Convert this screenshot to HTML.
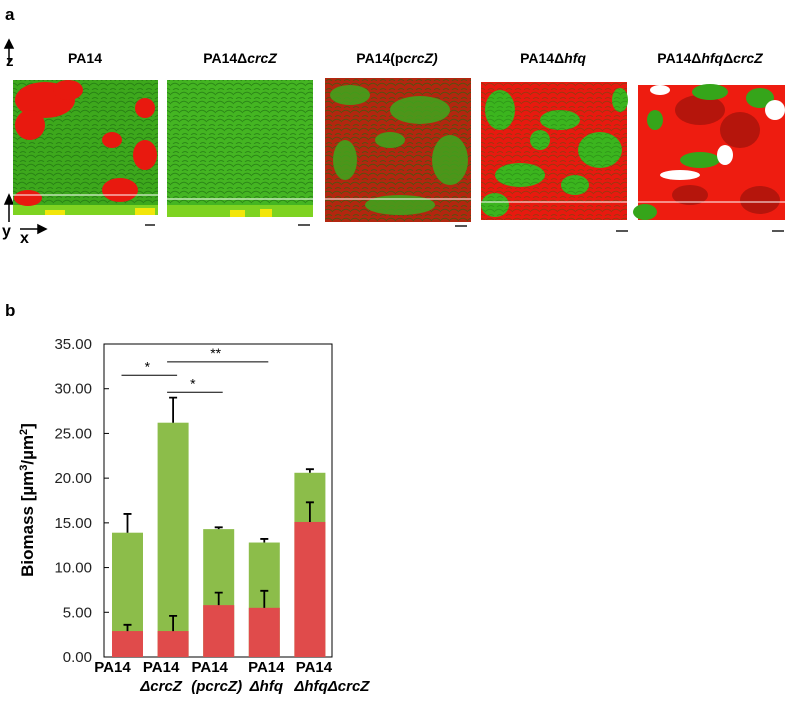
<!DOCTYPE html>
<html><head><meta charset="utf-8"><style>
body{margin:0;background:#fff;width:787px;height:698px;overflow:hidden;font-family:"Liberation Sans",Arial,sans-serif}
svg text{font-family:"Liberation Sans",Arial,sans-serif}
</style></head><body>
<svg width="787" height="698" viewBox="0 0 787 698">
<defs>
<pattern id="tex" width="9" height="9" patternUnits="userSpaceOnUse"><rect width="9" height="9" fill="none"/><path d="M0 4 Q4 0 9 5 M2 9 Q5 6 8 9" stroke="#1d6a10" stroke-width="1" fill="none" opacity="0.6"/></pattern>
</defs>
<text x="5" y="20" font-size="17" font-weight="bold">a</text>
<text x="5" y="316" font-size="17" font-weight="bold">b</text>

<g stroke="#000" stroke-width="1.5" fill="#000">
<line x1="9" y1="62" x2="9" y2="44"/><path d="M5 48 L9 40 L13 48Z"/>
<line x1="9" y1="222" x2="9" y2="198"/><path d="M5 204 L9 195 L13 204Z"/>
<line x1="20" y1="229" x2="44" y2="229"/><path d="M38 225 L46 229 L38 233Z"/>
</g>
<text x="6" y="66" font-size="15" font-weight="bold">z</text>
<text x="2" y="236" font-size="16" font-weight="bold">y</text>
<text x="20" y="243" font-size="16" font-weight="bold">x</text>

<g font-size="14" font-weight="bold" text-anchor="middle">
<text x="85" y="63">PA14</text>
<text x="240" y="63">PA14Δ<tspan font-style="italic">crcZ</tspan></text>
<text x="397" y="63">PA14(p<tspan font-style="italic">crcZ)</tspan></text>
<text x="553" y="63">PA14Δ<tspan font-style="italic">hfq</tspan></text>
<text x="710" y="63">PA14Δ<tspan font-style="italic">hfq</tspan>Δ<tspan font-style="italic">crcZ</tspan></text>
</g>

<g>
<rect x="13" y="80" width="145" height="135" fill="#3da81c"/><rect x="13" y="80" width="145" height="135" fill="url(#tex)"/>
<rect x="13" y="205" width="145" height="10" fill="#7ed321"/>
<g fill="#e8190f"><ellipse cx="45" cy="100" rx="30" ry="18"/><ellipse cx="30" cy="125" rx="15" ry="15"/><ellipse cx="68" cy="90" rx="15" ry="10"/><ellipse cx="145" cy="108" rx="10" ry="10"/><ellipse cx="112" cy="140" rx="10" ry="8"/><ellipse cx="145" cy="155" rx="12" ry="15"/><ellipse cx="120" cy="190" rx="18" ry="12"/><ellipse cx="28" cy="198" rx="14" ry="8"/></g>
<g fill="#f2e60a"><rect x="45" y="210" width="20" height="5"/><rect x="135" y="208" width="20" height="7"/></g>
<line x1="13" y1="195" x2="158" y2="195" stroke="#fff"/>
<rect x="145" y="224" width="10" height="2" fill="#555"/>
</g>
<g>
<rect x="167" y="80" width="146" height="137" fill="#44b522"/><rect x="167" y="80" width="146" height="137" fill="url(#tex)"/>
<rect x="167" y="205" width="146" height="12" fill="#7ed321"/>
<g fill="#f2e60a"><rect x="230" y="210" width="15" height="7"/><rect x="260" y="209" width="12" height="8"/></g>
<line x1="167" y1="199" x2="313" y2="199" stroke="#fff"/>
<rect x="298" y="224" width="12" height="2" fill="#555"/>
</g>
<g>
<rect x="325" y="78" width="146" height="144" fill="#b3260f"/><rect x="325" y="78" width="146" height="144" fill="url(#tex)"/>
<g fill="#3da81c" opacity="0.85"><ellipse cx="350" cy="95" rx="20" ry="10"/><ellipse cx="420" cy="110" rx="30" ry="14"/><ellipse cx="450" cy="160" rx="18" ry="25"/><ellipse cx="345" cy="160" rx="12" ry="20"/><ellipse cx="400" cy="205" rx="35" ry="10"/><ellipse cx="390" cy="140" rx="15" ry="8"/></g>
<line x1="325" y1="199" x2="471" y2="199" stroke="#fff"/>
<rect x="455" y="225" width="12" height="2" fill="#555"/>
</g>
<g>
<rect x="481" y="82" width="146" height="138" fill="#e8190f"/>
<g fill="#3bb51e"><ellipse cx="500" cy="110" rx="15" ry="20"/><ellipse cx="560" cy="120" rx="20" ry="10"/><ellipse cx="600" cy="150" rx="22" ry="18"/><ellipse cx="520" cy="175" rx="25" ry="12"/><ellipse cx="575" cy="185" rx="14" ry="10"/><ellipse cx="495" cy="205" rx="14" ry="12"/><ellipse cx="620" cy="100" rx="8" ry="12"/><ellipse cx="540" cy="140" rx="10" ry="10"/></g>
<rect x="481" y="82" width="146" height="138" fill="url(#tex)" opacity="0.6"/>
<line x1="481" y1="202" x2="627" y2="202" stroke="#fff"/>
<rect x="616" y="230" width="12" height="2" fill="#555"/>
</g>
<g>
<rect x="638" y="85" width="147" height="135" fill="#ee1c10"/>
<g fill="#b5150c"><ellipse cx="700" cy="110" rx="25" ry="15"/><ellipse cx="740" cy="130" rx="20" ry="18"/><ellipse cx="760" cy="200" rx="20" ry="14"/><ellipse cx="690" cy="195" rx="18" ry="10"/></g>
<g fill="#35a51a"><ellipse cx="710" cy="92" rx="18" ry="8"/><ellipse cx="760" cy="98" rx="14" ry="10"/><ellipse cx="700" cy="160" rx="20" ry="8"/><ellipse cx="645" cy="212" rx="12" ry="8"/><ellipse cx="655" cy="120" rx="8" ry="10"/></g>
<g fill="#fff"><ellipse cx="680" cy="175" rx="20" ry="5"/><ellipse cx="725" cy="155" rx="8" ry="10"/><ellipse cx="775" cy="110" rx="10" ry="10"/><ellipse cx="660" cy="90" rx="10" ry="5"/></g>
<line x1="638" y1="202" x2="785" y2="202" stroke="#fff"/>
<rect x="772" y="230" width="12" height="2" fill="#555"/>
</g>

<g id="chart"></g>
</svg>
<script>
const categories = ["PA14","ΔcrcZ","(pcrcZ)","Δhfq","ΔhfqΔcrcZ"];
const totalValues = [13.9, 26.2, 14.3, 12.8, 20.6];
const totalErrors = [2.1, 2.8, 0.2, 0.4, 0.4];
const redValues = [2.9, 2.9, 5.8, 5.5, 15.1];
const redErrors = [0.7, 1.7, 1.4, 1.9, 2.2];
const yTicks = [0,5,10,15,20,25,30,35];
const sigPairs = [[0,1,"*",31.5],[1,3,"**",33.0],[1,2,"*",29.6]];

const NS="http://www.w3.org/2000/svg";
const g=document.getElementById('chart');
const L=104,R=332,T=344,B=657,yMax=35;
const y=v=>B-(v/yMax)*(B-T);
const slot=45.6, bw=31;
const xc=i=>L+23.5+slot*i;
const line1Dx=[-15,-12,-9,2,4];
const line2Dx=[0,-12,-2,2,22];
function mk(tag,a,parent){const e=document.createElementNS(NS,tag);for(const k in a)e.setAttribute(k,a[k]);(parent||g).appendChild(e);return e;}

const frame=mk('rect',{x:L,y:T,width:R-L,height:B-T,fill:'none',stroke:'#000','stroke-width':1});


yTicks.forEach(v=>{
  const t=mk('line',{x1:L,x2:L+5,y1:y(v),y2:y(v),stroke:'#000'});
  
  
  const l=mk('text',{x:L-12,y:y(v)+5,'text-anchor':'end','font-size':15,fill:'#222'});
  l.textContent=v.toFixed(2);
  
  
});
categories.forEach((c,i)=>{
  const x0=xc(i)-bw/2;
  const gb=mk('rect',{x:x0,y:y(totalValues[i]),width:bw,height:y(0)-y(totalValues[i]),fill:'#8cbd4a'});
  
  
  const rb=mk('rect',{x:x0,y:y(redValues[i]),width:bw,height:y(0)-y(redValues[i]),fill:'#e04b4b'});
  
  
  [[totalValues[i],totalErrors[i]],[redValues[i],redErrors[i]]].forEach(([v,e])=>{
    const eb=mk('path',{d:`M${xc(i)} ${y(v)} V${y(v+e)} M${xc(i)-4} ${y(v+e)} H${xc(i)+4}`,stroke:'#000','stroke-width':1.8,fill:'none'});
    
    
  });
  const lt=mk('text',{x:xc(i)+line1Dx[i],y:B+15,'text-anchor':'middle','font-size':15,'font-weight':'bold'});
  lt.textContent='PA14';
  
  
  if(i>0){
    const lb=mk('text',{x:xc(i)+line2Dx[i],y:B+34,'text-anchor':'middle','font-size':15,'font-weight':'bold','font-style':'italic'});
    lb.textContent=c;
    
    
  }
});
sigPairs.forEach(([a,b,s,v])=>{
  const x1=xc(a)-6,x2=xc(b)+4;
  const ln=mk('line',{x1:x1,x2:x2,y1:y(v),y2:y(v),stroke:'#000','stroke-width':1});
  
  
  const st=mk('text',{x:(x1+x2)/2-2,y:y(v)-4,'text-anchor':'middle','font-size':14});
  st.textContent=s;
  
  
});
const yt=mk('text',{x:0,y:0,transform:'translate(33,500) rotate(-90)','text-anchor':'middle','font-size':17,'font-weight':'bold'});
yt.innerHTML='Biomass [µm<tspan font-size="11" dy="-6">3</tspan><tspan dy="6">/µm</tspan><tspan font-size="11" dy="-6">2</tspan><tspan dy="6">]</tspan>';


</script>
</body></html>
